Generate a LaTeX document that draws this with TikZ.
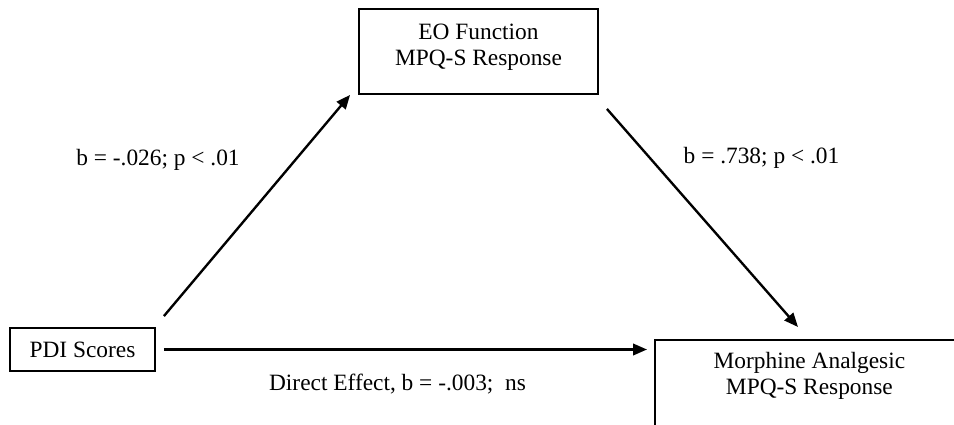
\documentclass[tikz,border=0pt]{standalone}
\usepackage{fontspec}
\setmainfont{Liberation Serif}
\usetikzlibrary{arrows.meta, positioning, calc}

\begin{document}
\begin{tikzpicture}[
    varbox/.style={draw, line width=1.05pt, align=center, inner sep=0pt},
    effect/.style={line width=1.35pt, -{Triangle[length=0.28cm, width=0.23cm]}},
    font=\fontsize{13.3}{14.8}\selectfont]
  \useasboundingbox (0,0) rectangle (19.08,8.48);
  \clip (0,0) rectangle (19.08,8.48);
  % variables
  \node[varbox, minimum width=4.78cm, minimum height=1.70cm] (eo) at (9.57,7.45) {EO Function\\MPQ-S Response\rule[-0.26cm]{0pt}{0pt}};
  \node[varbox, minimum width=2.90cm, minimum height=0.86cm] (pdi) at (1.65,1.49) {PDI Scores};
  \node[varbox, anchor=north west, minimum width=6.18cm, inner ysep=0.24cm, text depth=3cm] (morph) at (13.08,1.70) {Morphine Analgesic\\MPQ-S Response};
  % paths
  \draw[effect] ([shift={(0.16,0.22)}]pdi.north east) -- ([xshift=-0.16cm]eo.south west);
  \draw[effect] ([shift={(0.16,-0.28)}]eo.south east) -- ([shift={(2.88,0.24)}]morph.north west);
  \draw[effect] ([xshift=0.16cm]pdi.east) -- ([xshift=-0.14cm]pdi.east -| morph.west);
  % coefficients
  \node[anchor=base] (apath) at (3.16,5.18) {b = -.026; p < .01};
  \node[anchor=base] (bpath) at (15.23,5.22) {b = .738; p < .01};
  \node[anchor=base] (cpath) at (7.95,0.68) {Direct Effect, b = -.003;\ \ ns};
\end{tikzpicture}
\end{document}
